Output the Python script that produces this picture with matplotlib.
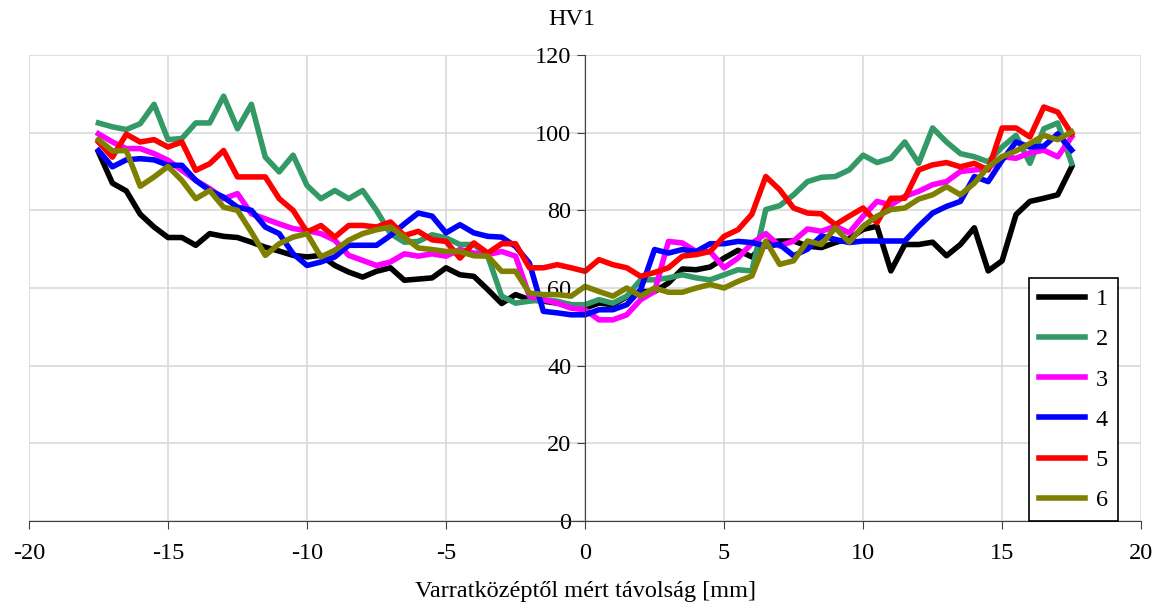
import numpy as np
import matplotlib
matplotlib.use("Agg")
import matplotlib.pyplot as plt

plt.rcParams['font.family'] = ['Liberation Serif', 'DejaVu Serif']
plt.rcParams['axes.unicode_minus'] = False

# distance from weld centre [mm], 0.5 mm step
x = np.arange(-17.5, 17.51, 0.5)

s1 = [95, 87, 85, 79, 75.7, 73, 73, 71, 74, 73.3, 73, 71.8, 70.5, 69.5, 68.4, 68, 68.4, 65.8, 64.1, 62.8, 64.3, 65.2, 62,
      62.3, 62.6, 65.2, 63.4, 63, 59.6, 56, 58.3, 57, 56.6, 56.1, 55.7, 54.8, 56.1, 55.7, 57.7, 59.1, 59.1, 61.3, 64.9, 64.7, 65.4, 67.7, 69.7,
      68, 71.7, 72.1, 72.1, 70.8, 70.4, 71.7, 72.7, 75.1, 75.9, 64.4, 71.2, 71.2, 71.8, 68.3, 71.2, 75.5, 64.4, 67, 78.9, 82.3, 83.1, 84, 91.2]
s2 = [102.5, 101.5, 100.8, 102.3, 107.3, 98.2, 98.5, 102.5, 102.5, 109.4, 101, 107.3, 93.7, 89.9, 94.2, 86.4, 83, 85.1, 83, 85.1, 80, 74, 71.8,
      72, 73.7, 72.9, 71.2, 71.2, 68.2, 57.9, 56.1, 56.6, 57, 56.6, 55.7, 55.7, 57, 56.1, 57.9, 62.1, 62.1, 62.6, 63.4, 62.6, 62.1, 63.4, 64.7,
      64.4, 80.2, 81.2, 84, 87.4, 88.5, 88.7, 90.4, 94.2, 92.3, 93.4, 97.6, 92.1, 101.2, 97.6, 94.6, 93.8, 92.5, 96.3, 99.3, 92.1, 101, 102.5, 92.1]
s3 = [99.7, 97.6, 95.9, 95.9, 94.6, 92.9, 90.3, 87.7, 85.6, 83, 84.3, 79.1, 77.8, 76.5, 75.3, 74.8, 74, 72.3, 68.4, 67.1, 65.8, 66.7, 68.8,
      68.2, 68.8, 68.2, 69.9, 69, 68.6, 69.4, 68.2, 57.9, 57, 56.1, 54.8, 54.4, 51.8, 51.8, 53.1, 57, 59.1, 72, 71.6, 69.4, 69.4, 65.2, 67.7,
      71.5, 74, 70.8, 72.1, 75.2, 74.6, 75.9, 74.2, 78.5, 82.3, 81.4, 83.6, 84.9, 86.6, 87.4, 90, 90.4, 90.8, 93.8, 93.4, 94.8, 95.5, 93.8, 98.9]
s4 = [95.4, 91.2, 93, 93.3, 93, 91.6, 91.6, 87.7, 85.1, 83.4, 80.8, 80, 75.7, 74, 68.8, 65.8, 66.7, 68, 71, 71, 71, 73.5, 76.5,
      79.3, 78.5, 74.2, 76.3, 74.2, 73.3, 73.1, 70.7, 66.4, 54, 53.6, 53.1, 53.1, 54.4, 54.4, 55.7, 59.6, 69.9, 69, 69.9, 69.4, 71.4, 71.4, 72,
      71.7, 70.8, 71.2, 68.3, 70, 73.4, 72.5, 71.7, 72.1, 72.1, 72.1, 72.1, 75.9, 79.3, 81, 82.3, 88.7, 87.4, 92.9, 97.6, 96.3, 96.5, 99.7, 95.5]
s5 = [97.6, 93.7, 99.6, 97.6, 98.2, 96.3, 97.6, 90.3, 92, 95.4, 88.6, 88.6, 88.6, 83, 80, 74.4, 76.1, 73.1, 76.1, 76.1, 75.7, 77, 73.5,
      74.6, 72.4, 72, 67.7, 71.6, 69, 71.4, 71.4, 65.2, 65.2, 66, 65.2, 64.3, 67.3, 66, 65.2, 63, 64, 65.2, 68.2, 68.6, 69.4, 73.3, 75,
      79, 88.7, 85.3, 80.6, 79.3, 79.1, 76.3, 78.5, 80.6, 76.8, 83.1, 83.1, 90.4, 91.7, 92.3, 91.2, 92.1, 90.4, 101.2, 101.2, 98.9, 106.6, 105.3, 99.7]
s6 = [98.2, 95.3, 95.4, 86.2, 88.6, 91.3, 87.7, 83, 85.1, 80.8, 80, 74.4, 68.4, 71.4, 73.1, 74, 68, 69.7, 72.3, 74, 75, 75.7, 73.1,
      70.3, 69.9, 69.4, 69.4, 68.3, 68.2, 64.3, 64.3, 58.7, 58.3, 58.3, 57.9, 60.4, 59.1, 57.9, 60, 57.9, 60, 58.9, 58.9, 60, 60.9, 60, 61.7,
      63.1, 72.1, 66.1, 67, 72.1, 71.2, 75.5, 71.8, 75.9, 78.5, 80.2, 80.6, 82.9, 84, 86.1, 84, 87, 91.2, 93.8, 95.3, 97.2, 99.3, 98.2, 100.2]

series = [s1, s2, s3, s4, s5, s6]
names = ['1', '2', '3', '4', '5', '6']
colors = ['#000000', '#339966', '#FF00FF', '#0000FF', '#FF0000', '#808000']

fs = 17.5

fig = plt.figure(figsize=(11.68, 6.03), dpi=100)
ax = fig.add_axes([0.0248, 0.136, 0.9522, 0.7728])

for s, n, c in zip(series, names, colors):
    ax.plot(x, s, color=c, lw=4, label=n)

ax.set_xlim(-20, 20)
ax.set_ylim(0, 120)
ax.set_xticks(np.arange(-20, 21, 5))
ax.set_yticks(np.arange(0, 121, 20))
ax.grid(True, color='#d9d9d9', lw=1.2)
ax.set_axisbelow(True)

ax.spines['left'].set_position(('data', 0))
ax.spines['right'].set_visible(False)
ax.spines['top'].set_visible(False)
ax.spines['left'].set_color('#404040')
ax.spines['bottom'].set_color('#404040')
ax.tick_params(axis='both', direction='out', length=6, colors='#404040', labelcolor='black', labelsize=fs)
ax.tick_params(axis='x', pad=10)
ax.tick_params(axis='y', pad=4)

ax.set_xlabel('Varratközéptől mért távolság [mm]', fontsize=fs, labelpad=12)
fig.text(0.49, 0.968, 'HV1', fontsize=fs, ha='center', va='center')

leg = ax.legend(loc='lower left', bbox_to_anchor=(0.899, 0.0), borderaxespad=0, fontsize=fs,
                frameon=True, fancybox=False, edgecolor='black', framealpha=1,
                labelspacing=0.75, handlelength=1.9, handletextpad=0.45, borderpad=0.4)
leg.get_frame().set_linewidth(1.2)

fig.savefig('out.png', dpi=100)
